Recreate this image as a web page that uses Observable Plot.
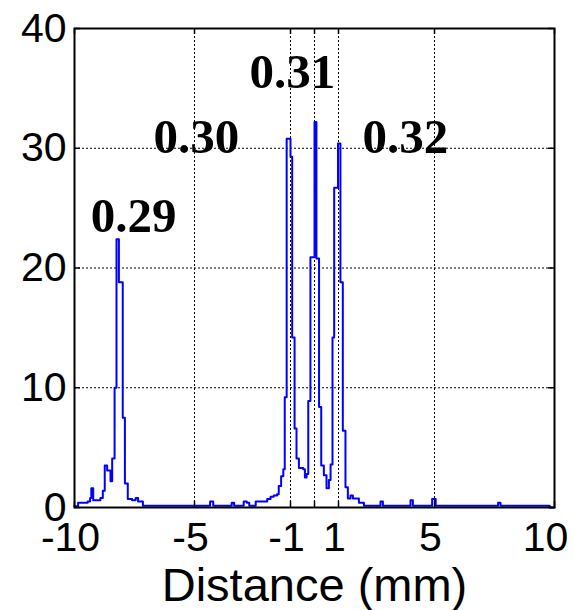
<!DOCTYPE html>
<html><head><meta charset="utf-8">
<script src="https://cdn.jsdelivr.net/npm/d3@7"></script>
<script src="https://cdn.jsdelivr.net/npm/@observablehq/plot@0.6"></script>
<style>body{margin:0;background:#fff}</style>
</head><body><div id="chart"></div>
<script>
// Distance (mm) at the left edge of each step, and the value of that step
const distance = [
  -10.0, -9.85, -9.45, -9.35, -9.3, -9.22, -9.0, -8.92, -8.82, -8.74, -8.64, -8.5, -8.43, -8.33, -8.25, -8.15, -7.99, -7.9, -7.78, -7.6, -7.45, -7.35, -7.15,
  -4.35, -4.22, -3.45, -3.35, -2.95, -2.82, -2.72, -2.45,
  -1.97, -1.83, -1.7, -1.56, -1.49, -1.39, -1.3, -1.24, -1.16, -1.0, -0.93, -0.83, -0.75, -0.65, -0.47, -0.4, -0.33, -0.26, -0.17,
  0.0, 0.08, 0.19, 0.28, 0.39, 0.5, 0.6, 0.67, 0.75, 0.82, 0.98, 1.08, 1.18, 1.29, 1.39, 1.5, 1.6, 1.85, 2.06,
  2.75, 2.85, 4.0, 4.1, 4.9, 5.05, 7.65, 7.75, 9.8, 10.0
];
const counts = [
  0.1, 0.4, 0.5, 0.8, 1.6, 0.6, 0.6, 0.8, 1.4, 3.5, 3.1, 2.2, 4.1, 10.0, 22.4, 18.8, 7.5, 2.0, 0.7, 0.6, 0.8, 0.5, 0.15,
  0.5, 0.15, 0.4, 0.15, 0.5, 0.4, 0.15, 0.5,
  0.7, 0.9, 1.0, 1.1, 1.8, 2.6, 3.2, 9.2, 30.8, 29.3, 14.2, 6.6, 4.1, 3.3, 3.2, 2.5, 2.8, 8.9, 20.9,
  32.2, 20.8, 8.4, 3.5, 2.7, 1.6, 2.3, 3.6, 14.2, 26.7, 30.4, 18.8, 6.4, 1.7, 0.75, 1.0, 0.75, 0.4, 0.15,
  0.5, 0.15, 0.6, 0.15, 0.7, 0.15, 0.4, 0.15, 0.0, 0.0
];
const xTickLabels = [-10, -5, -1, 1, 5];
const xTickLabelsRight = [10];
const xTickMarks = [-10, -5, -1, 0, 1, 5, 10];
const xGrid = [-5, -1, 0, 1, 5];
const yTicks = [0, 10, 20, 30, 40];
const yGrid = [10, 20, 30];
const peakLabels = ["0.29", "0.30", "0.31", "0.32"];
const peakLabelX = [-7.54, -4.92, -0.92, 3.79];
const peakLabelY = [23.0, 29.6, 35.0, 29.6];
const xLabel = "Distance (mm)";

const data = distance.map((d, i) => ({x: d, y: counts[i]}));
const ann = peakLabels.map((t, i) => ({t, x: peakLabelX[i], y: peakLabelY[i]}));

const chart = Plot.plot({
  width: 573, height: 610,
  marginLeft: 74, marginRight: 19, marginTop: 28, marginBottom: 103,
  x: {domain: [-10, 10]},
  y: {domain: [0, 40]},
  style: {fontFamily: "'Liberation Sans', Arial, sans-serif", fontSize: "41px", background: "white", color: "black"},
  marks: [
    Plot.ruleX(xGrid, {stroke: "black", strokeWidth: 1, strokeDasharray: "2,2"}),
    Plot.ruleY(yGrid, {stroke: "black", strokeWidth: 1, strokeDasharray: "2,2"}),
    Plot.line(data, {x: "x", y: "y", curve: "step-after", stroke: "#0000ff", strokeWidth: 2}),
    Plot.ruleX(xTickMarks, {y1: 0, y2: 0.5, stroke: "black", strokeWidth: 1.5}),
    Plot.ruleX(xTickMarks, {y1: 39.5, y2: 40, stroke: "black", strokeWidth: 1.5}),
    Plot.ruleY(yTicks, {x1: -10, x2: -9.75, stroke: "black", strokeWidth: 1.5}),
    Plot.ruleY(yTicks, {x1: 9.75, x2: 10, stroke: "black", strokeWidth: 1.5}),
    Plot.frame({stroke: "black", strokeWidth: 2}),
    Plot.axisX(xTickLabels, {tickSize: 0, tickPadding: 14, fontSize: 41, label: null, dx: -4, tickFormat: d => String(d)}),
    Plot.axisX(xTickLabelsRight, {tickSize: 0, tickPadding: 14, fontSize: 41, label: null, dx: -9, tickFormat: d => String(d)}),
    Plot.axisY(yTicks, {tickSize: 0, tickPadding: 8, fontSize: 41, label: null}),
    Plot.text([xLabel], {frameAnchor: "bottom", dy: 93, lineAnchor: "bottom", fontSize: 47, fill: "black"}),
    Plot.text(ann, {x: "x", y: "y", text: "t", lineAnchor: "bottom", fontFamily: "'Liberation Serif', 'Times New Roman', serif", fontWeight: "bold", fontSize: 49, fill: "black"})
  ]
});
document.getElementById("chart").appendChild(chart);
</script>
</body></html>
